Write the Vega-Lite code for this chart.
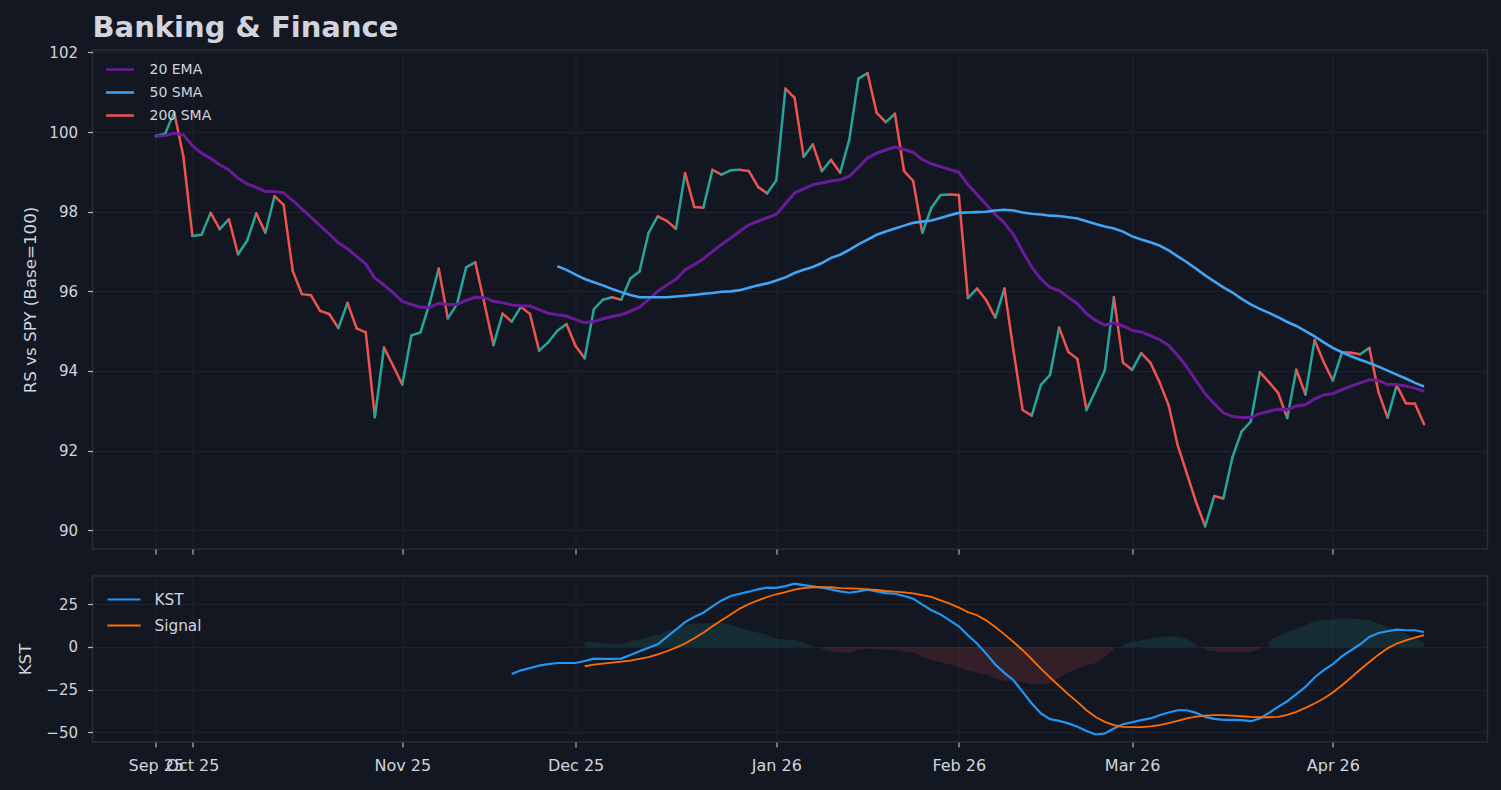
{
  "$schema": "https://vega.github.io/schema/vega-lite/v6.json",
  "background": "#131722",
  "padding": {"left": 16.5, "top": 13, "right": 14, "bottom": 20},
  "title": {"text": "Banking & Finance", "anchor": "start", "frame": "group", "fontSize": 29, "fontWeight": "bold", "color": "#d1d4dc", "font": "DejaVu Sans", "offset": 2},
  "spacing": 27,
  "bounds": "flush",
  "resolve": {"scale": {"color": "independent"}, "legend": {"color": "independent"}},
  "datasets": {
    "main": [
      {"i": 0, "rs": 99.90, "ema": 99.89},
      {"i": 1, "rs": 99.95, "ema": 99.91},
      {"i": 2, "rs": 100.50, "ema": 99.97},
      {"i": 3, "rs": 99.40, "ema": 99.93},
      {"i": 4, "rs": 97.39, "ema": 99.66},
      {"i": 5, "rs": 97.42, "ema": 99.47},
      {"i": 6, "rs": 97.97, "ema": 99.34},
      {"i": 7, "rs": 97.56, "ema": 99.18},
      {"i": 8, "rs": 97.81, "ema": 99.05},
      {"i": 9, "rs": 96.93, "ema": 98.84},
      {"i": 10, "rs": 97.27, "ema": 98.70},
      {"i": 11, "rs": 97.96, "ema": 98.61},
      {"i": 12, "rs": 97.47, "ema": 98.51},
      {"i": 13, "rs": 98.39, "ema": 98.51},
      {"i": 14, "rs": 98.17, "ema": 98.47},
      {"i": 15, "rs": 96.51, "ema": 98.28},
      {"i": 16, "rs": 95.93, "ema": 98.07},
      {"i": 17, "rs": 95.90, "ema": 97.86},
      {"i": 18, "rs": 95.51, "ema": 97.65},
      {"i": 19, "rs": 95.43, "ema": 97.44},
      {"i": 20, "rs": 95.08, "ema": 97.22},
      {"i": 21, "rs": 95.71, "ema": 97.07},
      {"i": 22, "rs": 95.07, "ema": 96.88},
      {"i": 23, "rs": 94.97, "ema": 96.69},
      {"i": 24, "rs": 92.84, "ema": 96.33},
      {"i": 25, "rs": 94.59, "ema": 96.16},
      {"i": 26, "rs": 94.13, "ema": 95.96},
      {"i": 27, "rs": 93.66, "ema": 95.75},
      {"i": 28, "rs": 94.89, "ema": 95.67},
      {"i": 29, "rs": 94.97, "ema": 95.60},
      {"i": 30, "rs": 95.70, "ema": 95.60},
      {"i": 31, "rs": 96.57, "ema": 95.70},
      {"i": 32, "rs": 95.32, "ema": 95.67},
      {"i": 33, "rs": 95.68, "ema": 95.67},
      {"i": 34, "rs": 96.60, "ema": 95.77},
      {"i": 35, "rs": 96.73, "ema": 95.85},
      {"i": 36, "rs": 95.70, "ema": 95.84},
      {"i": 37, "rs": 94.65, "ema": 95.75},
      {"i": 38, "rs": 95.44, "ema": 95.71},
      {"i": 39, "rs": 95.24, "ema": 95.66, "kst": -15.8},
      {"i": 40, "rs": 95.61, "ema": 95.64, "kst": -13.7},
      {"i": 41, "rs": 95.43, "ema": 95.63, "kst": -12.3},
      {"i": 42, "rs": 94.51, "ema": 95.54, "kst": -10.9},
      {"i": 43, "rs": 94.72, "ema": 95.45, "kst": -10.1},
      {"i": 44, "rs": 95.01, "ema": 95.41, "sma": 96.63, "kst": -9.4},
      {"i": 45, "rs": 95.18, "ema": 95.38, "sma": 96.54, "kst": -9.4},
      {"i": 46, "rs": 94.63, "ema": 95.29, "sma": 96.42, "kst": -9.4},
      {"i": 47, "rs": 94.32, "ema": 95.21, "sma": 96.31, "kst": -8.2, "sig": -11.3},
      {"i": 48, "rs": 95.55, "ema": 95.24, "sma": 96.23, "kst": -6.8, "sig": -10.3},
      {"i": 49, "rs": 95.79, "ema": 95.31, "sma": 96.15, "kst": -7.0, "sig": -9.8},
      {"i": 50, "rs": 95.85, "ema": 95.37, "sma": 96.06, "kst": -7.0, "sig": -9.2},
      {"i": 51, "rs": 95.79, "ema": 95.41, "sma": 95.98, "kst": -6.8, "sig": -8.6},
      {"i": 52, "rs": 96.32, "ema": 95.50, "sma": 95.91, "kst": -4.7, "sig": -8.0},
      {"i": 53, "rs": 96.50, "ema": 95.60, "sma": 95.85, "kst": -2.5, "sig": -7.0},
      {"i": 54, "rs": 97.47, "ema": 95.79, "sma": 95.85, "kst": -0.4, "sig": -5.9},
      {"i": 55, "rs": 97.88, "ema": 96.00, "sma": 95.85, "kst": 1.6, "sig": -4.3},
      {"i": 56, "rs": 97.77, "ema": 96.16, "sma": 95.85, "kst": 5.9, "sig": -2.5},
      {"i": 57, "rs": 97.57, "ema": 96.30, "sma": 95.87, "kst": 10.2, "sig": -0.4},
      {"i": 58, "rs": 98.97, "ema": 96.54, "sma": 95.89, "kst": 14.6, "sig": 2.0},
      {"i": 59, "rs": 98.12, "ema": 96.67, "sma": 95.91, "kst": 17.6, "sig": 5.1},
      {"i": 60, "rs": 98.10, "ema": 96.82, "sma": 95.94, "kst": 20.1, "sig": 8.4},
      {"i": 61, "rs": 99.05, "ema": 97.00, "sma": 95.96, "kst": 23.8, "sig": 12.1},
      {"i": 62, "rs": 98.93, "ema": 97.18, "sma": 95.99, "kst": 27.3, "sig": 15.6},
      {"i": 63, "rs": 99.04, "ema": 97.34, "sma": 96.00, "kst": 29.9, "sig": 19.1},
      {"i": 64, "rs": 99.05, "ema": 97.51, "sma": 96.03, "kst": 31.2, "sig": 22.5},
      {"i": 65, "rs": 99.02, "ema": 97.67, "sma": 96.09, "kst": 32.4, "sig": 25.2},
      {"i": 66, "rs": 98.62, "ema": 97.76, "sma": 96.15, "kst": 33.8, "sig": 27.3},
      {"i": 67, "rs": 98.46, "ema": 97.85, "sma": 96.20, "kst": 34.8, "sig": 29.3},
      {"i": 68, "rs": 98.79, "ema": 97.93, "sma": 96.27, "kst": 34.6, "sig": 30.9},
      {"i": 69, "rs": 101.09, "ema": 98.20, "sma": 96.35, "kst": 35.7, "sig": 32.2},
      {"i": 70, "rs": 100.86, "ema": 98.47, "sma": 96.46, "kst": 37.1, "sig": 33.6},
      {"i": 71, "rs": 99.38, "ema": 98.57, "sma": 96.54, "kst": 36.3, "sig": 34.5},
      {"i": 72, "rs": 99.69, "ema": 98.68, "sma": 96.61, "kst": 35.5, "sig": 35.0},
      {"i": 73, "rs": 99.02, "ema": 98.72, "sma": 96.71, "kst": 34.8, "sig": 35.0},
      {"i": 74, "rs": 99.30, "ema": 98.77, "sma": 96.84, "kst": 33.8, "sig": 35.0},
      {"i": 75, "rs": 98.98, "ema": 98.80, "sma": 96.92, "kst": 32.6, "sig": 34.5},
      {"i": 76, "rs": 99.81, "ema": 98.89, "sma": 97.04, "kst": 31.8, "sig": 34.4},
      {"i": 77, "rs": 101.34, "ema": 99.11, "sma": 97.18, "kst": 32.6, "sig": 34.2},
      {"i": 78, "rs": 101.48, "ema": 99.35, "sma": 97.30, "kst": 33.6, "sig": 33.8},
      {"i": 79, "rs": 100.48, "ema": 99.47, "sma": 97.42, "kst": 32.6, "sig": 33.4},
      {"i": 80, "rs": 100.25, "ema": 99.55, "sma": 97.50, "kst": 31.6, "sig": 32.8},
      {"i": 81, "rs": 100.46, "ema": 99.62, "sma": 97.58, "kst": 31.2, "sig": 32.4},
      {"i": 82, "rs": 99.02, "ema": 99.56, "sma": 97.65, "kst": 29.9, "sig": 32.0},
      {"i": 83, "rs": 98.77, "ema": 99.49, "sma": 97.72, "kst": 28.3, "sig": 31.4},
      {"i": 84, "rs": 97.47, "ema": 99.31, "sma": 97.75, "kst": 24.8, "sig": 30.4},
      {"i": 85, "rs": 98.10, "ema": 99.20, "sma": 97.78, "kst": 21.5, "sig": 29.3},
      {"i": 86, "rs": 98.42, "ema": 99.13, "sma": 97.84, "kst": 19.1, "sig": 27.3},
      {"i": 87, "rs": 98.43, "ema": 99.06, "sma": 97.91, "kst": 15.6, "sig": 25.4},
      {"i": 88, "rs": 98.42, "ema": 98.99, "sma": 97.97, "kst": 12.1, "sig": 23.1},
      {"i": 89, "rs": 95.83, "ema": 98.68, "sma": 97.98, "kst": 6.9, "sig": 20.4},
      {"i": 90, "rs": 96.07, "ema": 98.43, "sma": 97.99, "kst": 2.0, "sig": 18.6},
      {"i": 91, "rs": 95.78, "ema": 98.18, "sma": 98.00, "kst": -3.9, "sig": 15.6},
      {"i": 92, "rs": 95.34, "ema": 97.93, "sma": 98.03, "kst": -10.3, "sig": 11.7},
      {"i": 93, "rs": 96.07, "ema": 97.72, "sma": 98.05, "kst": -15.2, "sig": 7.4},
      {"i": 94, "rs": 94.51, "ema": 97.42, "sma": 98.03, "kst": -19.5, "sig": 2.9},
      {"i": 95, "rs": 93.02, "ema": 97.00, "sma": 97.98, "kst": -26.3, "sig": -1.9},
      {"i": 96, "rs": 92.88, "ema": 96.61, "sma": 97.95, "kst": -33.1, "sig": -7.2},
      {"i": 97, "rs": 93.65, "ema": 96.31, "sma": 97.93, "kst": -39.0, "sig": -12.7},
      {"i": 98, "rs": 93.90, "ema": 96.10, "sma": 97.90, "kst": -42.3, "sig": -17.9},
      {"i": 99, "rs": 95.09, "ema": 96.02, "sma": 97.89, "kst": -43.3, "sig": -22.8},
      {"i": 100, "rs": 94.48, "ema": 95.85, "sma": 97.86, "kst": -44.8, "sig": -27.7},
      {"i": 101, "rs": 94.30, "ema": 95.69, "sma": 97.83, "kst": -46.8, "sig": -32.2},
      {"i": 102, "rs": 93.02, "ema": 95.44, "sma": 97.76, "kst": -49.2, "sig": -37.1},
      {"i": 103, "rs": 93.51, "ema": 95.27, "sma": 97.69, "kst": -51.3, "sig": -41.0},
      {"i": 104, "rs": 94.01, "ema": 95.15, "sma": 97.63, "kst": -50.7, "sig": -43.9},
      {"i": 105, "rs": 95.85, "ema": 95.21, "sma": 97.58, "kst": -47.8, "sig": -45.8},
      {"i": 106, "rs": 94.21, "ema": 95.13, "sma": 97.50, "kst": -45.3, "sig": -46.8},
      {"i": 107, "rs": 94.03, "ema": 95.02, "sma": 97.38, "kst": -44.1, "sig": -47.0},
      {"i": 108, "rs": 94.45, "ema": 94.98, "sma": 97.30, "kst": -42.9, "sig": -47.0},
      {"i": 109, "rs": 94.21, "ema": 94.89, "sma": 97.23, "kst": -41.9, "sig": -46.6},
      {"i": 110, "rs": 93.72, "ema": 94.79, "sma": 97.15, "kst": -40.0, "sig": -45.8},
      {"i": 111, "rs": 93.14, "ema": 94.64, "sma": 97.03, "kst": -38.4, "sig": -44.7},
      {"i": 112, "rs": 92.13, "ema": 94.39, "sma": 96.88, "kst": -37.1, "sig": -43.3},
      {"i": 113, "rs": 91.42, "ema": 94.10, "sma": 96.73, "kst": -37.1, "sig": -41.9},
      {"i": 114, "rs": 90.71, "ema": 93.76, "sma": 96.57, "kst": -38.6, "sig": -40.8},
      {"i": 115, "rs": 90.10, "ema": 93.43, "sma": 96.40, "kst": -41.0, "sig": -40.2},
      {"i": 116, "rs": 90.86, "ema": 93.18, "sma": 96.25, "kst": -42.1, "sig": -40.0},
      {"i": 117, "rs": 90.80, "ema": 92.95, "sma": 96.10, "kst": -42.7, "sig": -40.0},
      {"i": 118, "rs": 91.84, "ema": 92.86, "sma": 95.97, "kst": -42.7, "sig": -40.2},
      {"i": 119, "rs": 92.48, "ema": 92.83, "sma": 95.81, "kst": -42.9, "sig": -40.6},
      {"i": 120, "rs": 92.73, "ema": 92.83, "sma": 95.67, "kst": -43.5, "sig": -41.0},
      {"i": 121, "rs": 93.97, "ema": 92.93, "sma": 95.56, "kst": -41.9, "sig": -41.2},
      {"i": 122, "rs": 93.72, "ema": 92.99, "sma": 95.46, "kst": -38.6, "sig": -41.2},
      {"i": 123, "rs": 93.45, "ema": 93.04, "sma": 95.35, "kst": -35.1, "sig": -41.0},
      {"i": 124, "rs": 92.82, "ema": 93.03, "sma": 95.23, "kst": -31.8, "sig": -39.8},
      {"i": 125, "rs": 94.03, "ema": 93.12, "sma": 95.13, "kst": -27.7, "sig": -38.0},
      {"i": 126, "rs": 93.41, "ema": 93.15, "sma": 95.00, "kst": -23.4, "sig": -35.7},
      {"i": 127, "rs": 94.78, "ema": 93.30, "sma": 94.87, "kst": -17.9, "sig": -33.1},
      {"i": 128, "rs": 94.22, "ema": 93.40, "sma": 94.72, "kst": -13.6, "sig": -30.2},
      {"i": 129, "rs": 93.76, "ema": 93.43, "sma": 94.58, "kst": -10.1, "sig": -26.7},
      {"i": 130, "rs": 94.47, "ema": 93.53, "sma": 94.47, "kst": -5.4, "sig": -22.4},
      {"i": 131, "rs": 94.46, "ema": 93.62, "sma": 94.37, "kst": -1.9, "sig": -17.9},
      {"i": 132, "rs": 94.42, "ema": 93.70, "sma": 94.28, "kst": 1.6, "sig": -13.2},
      {"i": 133, "rs": 94.58, "ema": 93.78, "sma": 94.20, "kst": 5.9, "sig": -8.8},
      {"i": 134, "rs": 93.47, "ema": 93.76, "sma": 94.11, "kst": 8.2, "sig": -4.5},
      {"i": 135, "rs": 92.83, "ema": 93.66, "sma": 94.01, "kst": 9.2, "sig": -0.8},
      {"i": 136, "rs": 93.64, "ema": 93.66, "sma": 93.91, "kst": 10.2, "sig": 2.0},
      {"i": 137, "rs": 93.19, "ema": 93.62, "sma": 93.81, "kst": 9.8, "sig": 3.9},
      {"i": 138, "rs": 93.18, "ema": 93.57, "sma": 93.70, "kst": 9.8, "sig": 5.5},
      {"i": 139, "rs": 92.66, "ema": 93.49, "sma": 93.61, "kst": 8.8, "sig": 6.9}
    ],
    "hist": [
      {"i": 47, "h": 2.9, "run": "g1"}, {"i": 48, "h": 2.9, "run": "g1"}, {"i": 49, "h": 2.3, "run": "g1"},
      {"i": 50, "h": 1.6, "run": "g1"}, {"i": 51, "h": 1.6, "run": "g1"}, {"i": 52, "h": 3.3, "run": "g1"},
      {"i": 53, "h": 4.5, "run": "g1"}, {"i": 54, "h": 5.9, "run": "g1"}, {"i": 55, "h": 7.2, "run": "g1"},
      {"i": 56, "h": 9.2, "run": "g1"}, {"i": 57, "h": 10.8, "run": "g1"}, {"i": 58, "h": 12.7, "run": "g1"},
      {"i": 59, "h": 13.7, "run": "g1"}, {"i": 60, "h": 13.7, "run": "g1"}, {"i": 61, "h": 14.1, "run": "g1"},
      {"i": 62, "h": 14.1, "run": "g1"}, {"i": 63, "h": 13.1, "run": "g1"}, {"i": 64, "h": 11.3, "run": "g1"},
      {"i": 65, "h": 9.8, "run": "g1"}, {"i": 66, "h": 8.4, "run": "g1"}, {"i": 67, "h": 7.2, "run": "g1"},
      {"i": 68, "h": 4.9, "run": "g1"}, {"i": 69, "h": 4.3, "run": "g1"}, {"i": 70, "h": 4.3, "run": "g1"},
      {"i": 71, "h": 2.6, "run": "g1"}, {"i": 72, "h": 0.5, "run": "g1"},
      {"i": 73, "h": -1.3, "run": "r1"}, {"i": 74, "h": -2.3, "run": "r1"}, {"i": 75, "h": -3.3, "run": "r1"},
      {"i": 76, "h": -3.3, "run": "r1"}, {"i": 77, "h": -1.8, "run": "r1"}, {"i": 78, "h": -1.0, "run": "r1"},
      {"i": 79, "h": -1.3, "run": "r1"}, {"i": 80, "h": -1.8, "run": "r1"}, {"i": 81, "h": -1.6, "run": "r1"},
      {"i": 82, "h": -2.7, "run": "r1"}, {"i": 83, "h": -3.3, "run": "r1"}, {"i": 84, "h": -5.9, "run": "r1"},
      {"i": 85, "h": -7.8, "run": "r1"}, {"i": 86, "h": -8.8, "run": "r1"}, {"i": 87, "h": -10.3, "run": "r1"},
      {"i": 88, "h": -11.7, "run": "r1"}, {"i": 89, "h": -14.0, "run": "r1"}, {"i": 90, "h": -15.0, "run": "r1"},
      {"i": 91, "h": -16.2, "run": "r1"}, {"i": 92, "h": -18.5, "run": "r1"}, {"i": 93, "h": -19.9, "run": "r1"},
      {"i": 94, "h": -19.9, "run": "r1"}, {"i": 95, "h": -20.5, "run": "r1"}, {"i": 96, "h": -21.8, "run": "r1"},
      {"i": 97, "h": -22.0, "run": "r1"}, {"i": 98, "h": -21.4, "run": "r1"}, {"i": 99, "h": -17.9, "run": "r1"},
      {"i": 100, "h": -14.8, "run": "r1"}, {"i": 101, "h": -12.7, "run": "r1"}, {"i": 102, "h": -10.7, "run": "r1"},
      {"i": 103, "h": -9.4, "run": "r1"}, {"i": 104, "h": -5.9, "run": "r1"}, {"i": 105, "h": -1.3, "run": "r1"},
      {"i": 106, "h": 1.6, "run": "g2"}, {"i": 107, "h": 2.9, "run": "g2"}, {"i": 108, "h": 3.9, "run": "g2"},
      {"i": 109, "h": 4.9, "run": "g2"}, {"i": 110, "h": 5.9, "run": "g2"}, {"i": 111, "h": 6.4, "run": "g2"},
      {"i": 112, "h": 5.9, "run": "g2"}, {"i": 113, "h": 4.5, "run": "g2"}, {"i": 114, "h": 2.0, "run": "g2"},
      {"i": 115, "h": -1.8, "run": "r2"}, {"i": 116, "h": -2.3, "run": "r2"}, {"i": 117, "h": -2.9, "run": "r2"},
      {"i": 118, "h": -2.9, "run": "r2"}, {"i": 119, "h": -2.9, "run": "r2"}, {"i": 120, "h": -2.9, "run": "r2"},
      {"i": 121, "h": -1.3, "run": "r2"},
      {"i": 122, "h": 3.3, "run": "g3"}, {"i": 123, "h": 6.4, "run": "g3"}, {"i": 124, "h": 8.8, "run": "g3"},
      {"i": 125, "h": 10.8, "run": "g3"}, {"i": 126, "h": 12.7, "run": "g3"}, {"i": 127, "h": 15.2, "run": "g3"},
      {"i": 128, "h": 16.0, "run": "g3"}, {"i": 129, "h": 16.0, "run": "g3"}, {"i": 130, "h": 17.0, "run": "g3"},
      {"i": 131, "h": 16.6, "run": "g3"}, {"i": 132, "h": 16.2, "run": "g3"}, {"i": 133, "h": 15.6, "run": "g3"},
      {"i": 134, "h": 13.7, "run": "g3"}, {"i": 135, "h": 11.7, "run": "g3"}, {"i": 136, "h": 9.8, "run": "g3"},
      {"i": 137, "h": 7.8, "run": "g3"}, {"i": 138, "h": 4.9, "run": "g3"}, {"i": 139, "h": 2.9, "run": "g3"}
    ]
  },
  "config": {
    "font": "DejaVu Sans",
    "view": {"stroke": "#2a2e39", "strokeWidth": 1.5, "fill": "#131722"},
    "axis": {
      "labelColor": "#d1d4dc", "titleColor": "#d1d4dc", "labelFontSize": 15, "titleFontSize": 16.7,
      "titleFontWeight": "normal", "gridColor": "#1e222d", "gridWidth": 1, "tickColor": "#b2b5be",
      "tickSize": 5, "tickWidth": 1.2, "domain": false, "labelFlush": false, "labelOverlap": false
    },
    "legend": {"labelColor": "#d1d4dc", "labelFont": "DejaVu Sans", "padding": 0}
  },
  "vconcat": [
    {
      "width": 1395,
      "height": 499,
      "data": {"name": "main"},
      "layer": [
        {
          "transform": [
            {"window": [{"op": "lead", "field": "rs", "as": "rs2"}, {"op": "lead", "field": "i", "as": "i2"}], "sort": [{"field": "i"}]},
            {"filter": "datum.rs2 != null"}
          ],
          "mark": {"type": "rule", "strokeWidth": 2.5, "strokeCap": "round"},
          "encoding": {
            "x": {"field": "i", "type": "quantitative", "scale": {"domain": [-6.95, 145.95], "nice": false, "zero": false},
              "axis": {"values": [0, 4, 27, 46, 68, 88, 107, 129], "labels": false, "title": null, "grid": true}},
            "x2": {"field": "i2"},
            "y": {"field": "rs", "type": "quantitative", "scale": {"domain": [89.53, 102.06], "nice": false, "zero": false},
              "axis": {"values": [90, 92, 94, 96, 98, 100, 102], "title": "RS vs SPY (Base=100)", "labelPadding": 10, "titlePadding": 9, "grid": true}},
            "y2": {"field": "rs2"},
            "color": {"condition": {"test": "datum.rs2 >= datum.rs", "value": "#26a69a"}, "value": "#ef5350"}
          }
        },
        {
          "mark": {"type": "line", "strokeWidth": 3},
          "encoding": {
            "x": {"field": "i", "type": "quantitative"},
            "y": {"field": "ema", "type": "quantitative"},
            "color": {
              "datum": "20 EMA",
              "scale": {"domain": ["20 EMA", "50 SMA", "200 SMA"], "range": ["#6a1b9a", "#42a5f5", "#ef5350"]},
              "legend": {"title": null, "orient": "none", "legendX": 12, "legendY": 4, "symbolType": "stroke", "symbolSize": 784,
                "symbolStrokeWidth": 2.5, "labelFontSize": 14, "labelOffset": 14, "rowPadding": 0}
            }
          }
        },
        {
          "mark": {"type": "line", "strokeWidth": 2.6},
          "encoding": {
            "x": {"field": "i", "type": "quantitative"},
            "y": {"field": "sma", "type": "quantitative"},
            "color": {"datum": "50 SMA"}
          }
        }
      ]
    },
    {
      "width": 1395,
      "height": 166,
      "layer": [
        {
          "data": {"name": "hist"},
          "mark": {"type": "area", "fillOpacity": 0.15},
          "encoding": {
            "x": {"field": "i", "type": "quantitative", "scale": {"domain": [-6.95, 145.95], "nice": false, "zero": false},
              "axis": {"values": [0, 4, 27, 46, 68, 88, 107, 129], "title": null, "grid": true, "labelPadding": 10, "labelFontSize": 16,
                "labelExpr": "datum.value == 0 ? 'Sep 25' : datum.value == 4 ? 'Oct 25' : datum.value == 27 ? 'Nov 25' : datum.value == 46 ? 'Dec 25' : datum.value == 68 ? 'Jan 26' : datum.value == 88 ? 'Feb 26' : datum.value == 107 ? 'Mar 26' : 'Apr 26'"}},
            "y": {"field": "h", "type": "quantitative", "scale": {"domain": [-55.7, 41.6], "nice": false, "zero": false},
              "axis": {"values": [-50, -25, 0, 25], "title": "KST", "labelPadding": 10, "titlePadding": 11, "grid": true}},
            "y2": {"datum": 0},
            "fill": {"field": "run", "type": "nominal", "scale": {"domain": ["g1", "r1", "g2", "r2", "g3"], "range": ["#26a69a", "#ef5350", "#26a69a", "#ef5350", "#26a69a"]}, "legend": null}
          }
        },
        {
          "mark": {"type": "rule", "color": "#363a45", "strokeWidth": 2},
          "encoding": {"y": {"datum": 0}}
        },
        {
          "data": {"name": "main"},
          "mark": {"type": "line", "strokeWidth": 2.2},
          "encoding": {
            "x": {"field": "i", "type": "quantitative"},
            "y": {"field": "kst", "type": "quantitative"},
            "color": {
              "datum": "KST",
              "scale": {"domain": ["KST", "Signal"], "range": ["#2196f3", "#ff6d00"]},
              "legend": {"title": null, "orient": "none", "legendX": 14, "legendY": 6, "symbolType": "stroke", "symbolSize": 1089,
                "symbolStrokeWidth": 2, "labelFontSize": 15.3, "labelOffset": 13, "rowPadding": 0}
            }
          }
        },
        {
          "data": {"name": "main"},
          "mark": {"type": "line", "strokeWidth": 1.8},
          "encoding": {
            "x": {"field": "i", "type": "quantitative"},
            "y": {"field": "sig", "type": "quantitative"},
            "color": {"datum": "Signal"}
          }
        }
      ]
    }
  ]
}
